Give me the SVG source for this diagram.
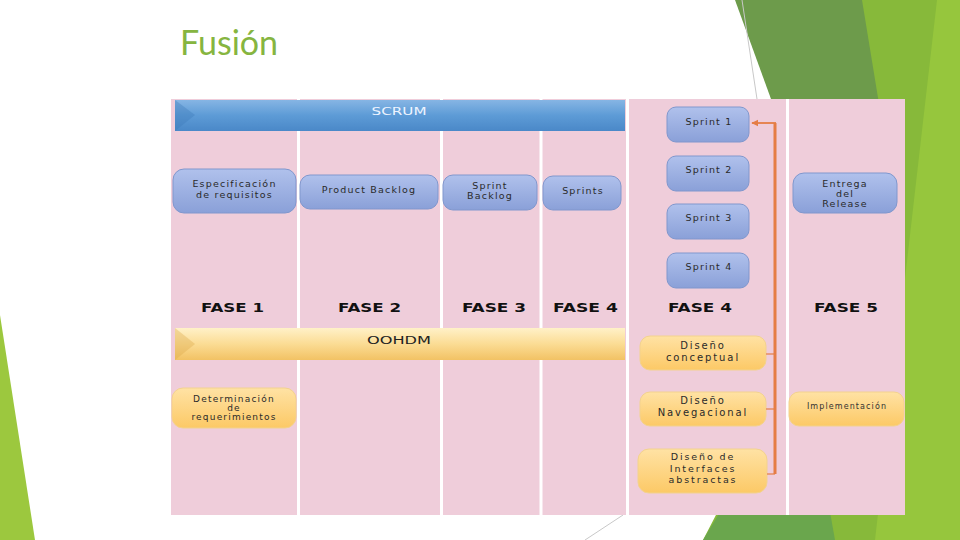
<svg xmlns="http://www.w3.org/2000/svg" width="960" height="540" viewBox="0 0 960 540">
<defs>
<linearGradient id="gBlue" x1="0" y1="0" x2="0" y2="1"><stop offset="0" stop-color="#b0c1ec"/><stop offset="1" stop-color="#8aa0d8"/></linearGradient>
<linearGradient id="gOrange" x1="0" y1="0" x2="0" y2="1"><stop offset="0" stop-color="#ffe2a4"/><stop offset="1" stop-color="#fcc966"/></linearGradient>
<linearGradient id="gScrum" x1="0" y1="0" x2="0" y2="1"><stop offset="0" stop-color="#86b5e4"/><stop offset="0.5" stop-color="#5d9bd6"/><stop offset="1" stop-color="#4a88c8"/></linearGradient>
<linearGradient id="gOoh" x1="0" y1="0" x2="0" y2="1"><stop offset="0" stop-color="#fff1c8"/><stop offset="0.5" stop-color="#fbdc94"/><stop offset="1" stop-color="#f2c264"/></linearGradient>
<marker id="arr" viewBox="0 0 10 10" refX="9" refY="5" markerWidth="4" markerHeight="4" orient="auto"><path d="M0 0 L10 5 L0 10 z" fill="#e57d45"/></marker>
<style>
.bn{fill:url(#gBlue);stroke:#8097cd;stroke-width:1}
.on{fill:url(#gOrange);stroke:#f3d28e;stroke-width:1}
.t{font-family:"DejaVu Sans",sans-serif;font-size:9.5px;fill:#2a2a2a;text-anchor:middle;letter-spacing:1.2px}
.tl{font-family:"DejaVu Sans",sans-serif;font-size:10px;fill:#2a2a2a;text-anchor:middle;letter-spacing:1.9px}
.ts{font-family:"DejaVu Sans",sans-serif;font-size:8px;fill:#333;text-anchor:middle;letter-spacing:1.1px}
.fase{font-family:"DejaVu Sans",sans-serif;font-size:12px;font-weight:bold;fill:#111;text-anchor:middle}
.sep{stroke:#ffffff;stroke-width:3}
.con{fill:none;stroke:#e57d45}
.deco{fill:none;stroke:#c8c8c8;stroke-width:1}
</style>
</defs>
<rect width="960" height="540" fill="#ffffff"/>
<!-- background decorations -->
<polygon points="0,315 35,540 0,540" fill="#9cc83e"/>
<polygon points="860,0 960,0 960,540 703,540 760,430 877,99" fill="#87b93a"/>
<polygon points="735,0 862,0 880,110 775,110" fill="#6d9b4b"/>
<polygon points="720,512 830,512 835,540 703,540" fill="#6aa64d"/>
<polygon points="937,0 960,0 960,540 875,540" fill="#96c63d"/>
<line class="deco" x1="742" y1="0" x2="757" y2="99"/>
<line class="deco" x1="623" y1="515" x2="585" y2="540"/>
<text x="180" y="55" font-family="Lato, 'Open Sans', sans-serif" font-size="34" fill="#86b540">Fusión</text>
<!-- diagram background -->
<rect x="171" y="99" width="734" height="416" fill="#efcdda"/>
<g id="separators">
<line class="sep" x1="298.5" y1="99" x2="298.5" y2="515"/>
<line class="sep" x1="441.5" y1="99" x2="441.5" y2="515"/>
<line class="sep" x1="541" y1="99" x2="541" y2="515"/>
<line class="sep" x1="627.5" y1="99" x2="627.5" y2="515"/>
<line class="sep" x1="787.5" y1="99" x2="787.5" y2="515"/>
</g>
<g id="scrum">
<rect x="175" y="100" width="450" height="31" fill="url(#gScrum)"/>
<polygon points="175,100 195,115 175,131" fill="#3d78b8" opacity="0.35"/>
<text x="399" y="115" font-family="'DejaVu Sans',sans-serif" font-size="10" fill="#eef4ff" text-anchor="middle" textLength="55" lengthAdjust="spacingAndGlyphs">SCRUM</text>
</g>
<g id="oohdm">
<rect x="175" y="328" width="450" height="32" fill="url(#gOoh)"/>
<polygon points="175,328 195,344 175,360" fill="#d9a548" opacity="0.35"/>
<text x="399" y="344" font-family="'DejaVu Sans',sans-serif" font-size="10" fill="#222" text-anchor="middle" textLength="64" lengthAdjust="spacingAndGlyphs">OOHDM</text>
</g>
<g id="especificacion"><rect class="bn" x="173" y="169" width="123" height="44" rx="11"/><text class="t" x="234.5" y="187">Especificación</text><text class="t" x="234.5" y="198">de requisitos</text></g>
<g id="product-backlog"><rect class="bn" x="300" y="175" width="138" height="34" rx="10"/><text class="t" x="369" y="193">Product Backlog</text></g>
<g id="sprint-backlog"><rect class="bn" x="443" y="175" width="94" height="35" rx="10"/><text class="t" x="490" y="189">Sprint</text><text class="t" x="490" y="199">Backlog</text></g>
<g id="sprints"><rect class="bn" x="543" y="176" width="78" height="34" rx="10"/><text class="t" x="583" y="194">Sprints</text></g>
<g id="sprint1"><rect class="bn" x="667" y="107" width="82" height="35" rx="9"/><text class="t" x="709" y="125">Sprint 1</text></g>
<g id="sprint2"><rect class="bn" x="667" y="156" width="82" height="35" rx="9"/><text class="t" x="709" y="173">Sprint 2</text></g>
<g id="sprint3"><rect class="bn" x="667" y="204" width="82" height="35" rx="9"/><text class="t" x="709" y="221">Sprint 3</text></g>
<g id="sprint4"><rect class="bn" x="667" y="253" width="82" height="35" rx="9"/><text class="t" x="709" y="270">Sprint 4</text></g>
<g id="entrega"><rect class="bn" x="793" y="173" width="104" height="40" rx="11"/><text class="t" x="845" y="187">Entrega</text><text class="t" x="845" y="197">del</text><text class="t" x="845" y="207">Release</text></g>
<g id="fases">
<text class="fase" x="232.5" y="312" textLength="63" lengthAdjust="spacingAndGlyphs">FASE 1</text>
<text class="fase" x="369.5" y="312" textLength="63" lengthAdjust="spacingAndGlyphs">FASE 2</text>
<text class="fase" x="494" y="312" textLength="64" lengthAdjust="spacingAndGlyphs">FASE 3</text>
<text class="fase" x="585.5" y="312" textLength="65" lengthAdjust="spacingAndGlyphs">FASE 4</text>
<text class="fase" x="700" y="312" textLength="64" lengthAdjust="spacingAndGlyphs">FASE 4</text>
<text class="fase" x="846" y="312" textLength="64" lengthAdjust="spacingAndGlyphs">FASE 5</text>
</g>
<g id="determinacion"><rect class="on" x="172" y="388" width="124" height="40" rx="11"/><text class="t" x="234" y="402" style="font-size:9px">Determinación</text><text class="t" x="234" y="411" style="font-size:9px">de</text><text class="t" x="234" y="420" style="font-size:9px">requerimientos</text></g>
<g id="diseno-conceptual"><rect class="on" x="640" y="336" width="126" height="34" rx="10"/><text class="tl" x="703" y="349">Diseño</text><text class="tl" x="703" y="361">conceptual</text></g>
<g id="diseno-navegacional"><rect class="on" x="640" y="392" width="126" height="34" rx="10"/><text class="tl" x="703" y="404">Diseño</text><text class="tl" x="703" y="416">Navegacional</text></g>
<g id="diseno-interfaces"><rect class="on" x="638" y="449" width="129" height="44" rx="11"/><text class="tl" x="703" y="460" style="font-size:9.5px">Diseño de</text><text class="tl" x="703" y="471.5" style="font-size:9.5px">Interfaces</text><text class="tl" x="703" y="483" style="font-size:9.5px">abstractas</text></g>
<g id="implementacion"><rect class="on" x="789" y="392" width="115" height="34" rx="10"/><text class="ts" x="847" y="409">Implementación</text></g>
<g id="connectors">
<path class="con" d="M775 474 V123" stroke-width="3"/>
<path class="con" d="M776 123 H752" stroke-width="1.8" marker-end="url(#arr)"/>
<path class="con" d="M766 354 H775" stroke-width="1.2"/>
<path class="con" d="M766 409 H775" stroke-width="1.2"/>
<path class="con" d="M767 474 H775" stroke-width="1.2"/>
</g>
</svg>
